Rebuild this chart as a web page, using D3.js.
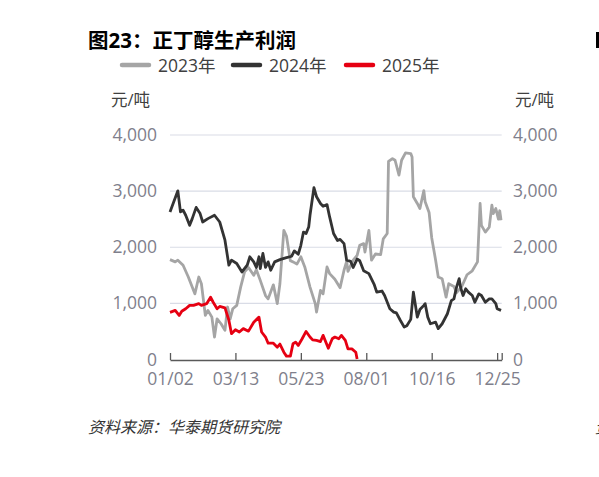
<!DOCTYPE html>
<html>
<head>
<meta charset="utf-8">
<script src="https://cdn.jsdelivr.net/npm/d3@7"></script>
<style>
  body { margin: 0; background: #fff; }
  svg { display: block; }
  text { font-family: "Open Sans", "Noto Sans CJK SC", sans-serif; }
</style>
</head>
<body>
<script>
// x is the trading-day index across the year, y is profit in 元/吨
var xTickIdx = [0, 50, 100, 150, 200, 250];
var xTickLabels = ['01/02', '03/13', '05/23', '08/01', '10/16', '12/25'];
var lastIdx = 253.5;
var yTicks = [0, 1000, 2000, 3000, 4000];

var idx2023 = [0,4,6,10,14,19,22,24,27,29,32,34,36,39,42,44,46,48,51,54,57,60,64,66,69,73,75,79,82,84,87,89,92,94,97,100,103,107,111,112,115,117,120,122,126,130,133,135,136,140,143,145,148,149,152,154,157,161,163,166,167,170,172,175,177,180,184,185,186,189,191,194,195,198,200,203,205,208,211,213,217,219,223,227,231,235,237,238,241,244,246,247,249,251,252,253];
var val2023 = [1780,1740,1770,1680,1470,1170,1470,1350,785,875,755,400,725,637,520,935,725,905,965,1290,1560,1640,1500,1600,1410,1140,1080,1330,995,1350,2300,2200,1760,1740,1700,1830,1650,1290,995,845,1230,1170,1650,1530,1430,1280,1590,1750,1570,1770,1855,2035,2065,1915,2300,1770,1880,1870,2150,2245,3530,3580,3550,3285,3550,3680,3670,3610,2900,2780,2690,3010,2810,2620,2170,1770,1470,1440,1110,1350,1300,1190,1300,1510,1580,1740,2780,2390,2270,2360,2750,2600,2690,2500,2650,2480];

var idx2024 = [0,6,8,10,12,15,17,20,23,25,29,34,38,42,45,47,51,55,59,61,64,66,68,69,71,73,75,77,80,84,89,93,95,98,100,102,104,106,107,110,112,115,117,120,122,125,128,130,133,135,138,140,143,145,148,152,156,158,162,164,168,171,173,176,179,181,184,186,187,189,191,194,195,197,199,203,205,208,212,215,217,219,221,222,224,226,228,231,233,236,238,241,244,246,249,250,253];
var val2024 = [2630,3005,2630,2660,2570,2390,2510,2710,2600,2450,2510,2570,2450,2125,1680,1770,1710,1560,1680,1830,1740,1640,1830,1620,1890,1640,1740,1590,1740,1780,1815,1840,1935,1875,2035,2270,2245,2360,2570,3060,2900,2780,2730,2760,2540,2245,2120,2140,2065,1770,1750,1640,1790,1760,1580,1530,1340,1200,1220,1140,905,845,830,700,577,600,715,1200,1050,755,890,965,995,755,637,665,550,637,815,1050,1080,1290,1440,1290,1140,1260,1200,1140,1020,1170,1140,1020,1080,1080,995,905,875];

var idx2025 = [0,4,7,9,12,15,18,22,24,28,31,33,36,38,42,45,47,50,53,56,60,64,68,70,73,75,79,82,84,87,89,92,94,96,98,101,104,107,109,112,115,117,121,124,126,129,131,134,136,139,142,143];
var val2025 = [840,875,785,860,905,965,965,995,965,995,1110,1020,905,945,920,700,460,530,490,550,505,665,755,490,400,290,290,220,275,130,60,60,280,310,250,370,500,400,350,340,320,430,200,370,400,370,430,340,190,190,130,10];

var seriesNames = ['2023年', '2024年', '2025年'];
var seriesColors = ['#a5a5a5', '#333333', '#e60012'];

var W = 599, H = 477;
var svg = d3.select('body').append('svg').attr('width', W).attr('height', H);

var x = d3.scaleLinear().domain([0, lastIdx]).range([170, 501.7]);
var y = d3.scaleLinear().domain([0, 4000]).range([359.5, 135]);

// title
svg.append('text')
  .attr('x', 88).attr('y', 48)
  .attr('font-size', 20.5).attr('font-weight', 'bold').attr('fill', '#000')
  .attr('font-family', '"Noto Sans CJK SC", sans-serif')
  .text('图23：正丁醇生产利润');

// cut-off bits of the neighbouring figure
svg.append('rect').attr('x', 596).attr('y', 32).attr('width', 3).attr('height', 16).attr('fill', '#000');
svg.append('text').attr('x', 595).attr('y', 433).attr('font-size', 16)
  .attr('font-style', 'italic').attr('fill', '#333')
  .attr('font-family', '"Noto Sans CJK SC", sans-serif').text('资');

// legend
var legendX = [122, 233, 346];
var legend = svg.append('g');
seriesNames.forEach(function(name, i) {
  legend.append('line')
    .attr('x1', legendX[i]).attr('x2', legendX[i] + 27)
    .attr('y1', 65).attr('y2', 65)
    .attr('stroke', seriesColors[i]).attr('stroke-width', 4.5)
    .attr('stroke-linecap', 'round');
  legend.append('text')
    .attr('x', legendX[i] + 36).attr('y', 72)
    .attr('font-size', 17.5).attr('fill', '#404040')
    .text(name);
});

// units
svg.append('text').attr('x', 111).attr('y', 106).attr('font-size', 16.5).attr('fill', '#404040').text('元/吨');
svg.append('text').attr('x', 515).attr('y', 106).attr('font-size', 16.5).attr('fill', '#404040').text('元/吨');

// gridlines
svg.append('g').selectAll('line')
  .data(yTicks.filter(function(d) { return d > 0; }))
  .enter().append('line')
  .attr('x1', 170).attr('x2', 501.7)
  .attr('y1', function(d) { return y(d); })
  .attr('y2', function(d) { return y(d); })
  .attr('stroke', '#d9dce6').attr('stroke-width', 1.2);

// y labels both sides
var fmt = d3.format(',');
var leftAxis = svg.append('g')
  .attr('transform', 'translate(157,0)')
  .call(d3.axisLeft(y).tickValues(yTicks).tickSize(0).tickPadding(0).tickFormat(fmt));
var rightAxis = svg.append('g')
  .attr('transform', 'translate(513,0)')
  .call(d3.axisRight(y).tickValues(yTicks).tickSize(0).tickPadding(0).tickFormat(fmt));
[leftAxis, rightAxis].forEach(function(g) {
  g.select('.domain').remove();
  g.selectAll('text').attr('font-size', 17.5).attr('fill', '#7f7f8c')
    .attr('font-family', '"Open Sans", sans-serif');
});

// lines
var line = d3.line()
  .x(function(d) { return x(d[0]); })
  .y(function(d) { return y(d[1]); });

var allIdx = [idx2023, idx2024, idx2025];
var allVal = [val2023, val2024, val2025];
allIdx.forEach(function(ix, s) {
  var pts = ix.map(function(d, i) { return [d, allVal[s][i]]; });
  svg.append('path')
    .datum(pts)
    .attr('fill', 'none')
    .attr('stroke', seriesColors[s])
    .attr('stroke-width', 2.8)
    .attr('stroke-linejoin', 'round')
    .attr('d', line);
});

// x axis, ticks pointing up
var xAxis = svg.append('g')
  .attr('transform', 'translate(0,' + 360 + ')')
  .call(d3.axisBottom(x)
    .tickValues(xTickIdx.concat([lastIdx]))
    .tickSizeInner(-7).tickSizeOuter(0).tickPadding(13)
    .tickFormat(function(d) {
      var k = xTickIdx.indexOf(d);
      return k >= 0 ? xTickLabels[k] : '';
    }));
xAxis.select('.domain').attr('stroke', '#595959').attr('stroke-width', 1.3);
xAxis.selectAll('line').attr('stroke', '#595959').attr('stroke-width', 1.3);
xAxis.selectAll('text').attr('font-size', 17.5).attr('fill', '#7f7f8c')
  .attr('font-family', '"Open Sans", sans-serif');

// source
svg.append('text')
  .attr('x', 88).attr('y', 433)
  .attr('font-size', 16).attr('font-style', 'italic').attr('fill', '#333')
  .attr('font-family', '"Noto Sans CJK SC", sans-serif')
  .text('资料来源：华泰期货研究院');
</script>
</body>
</html>
